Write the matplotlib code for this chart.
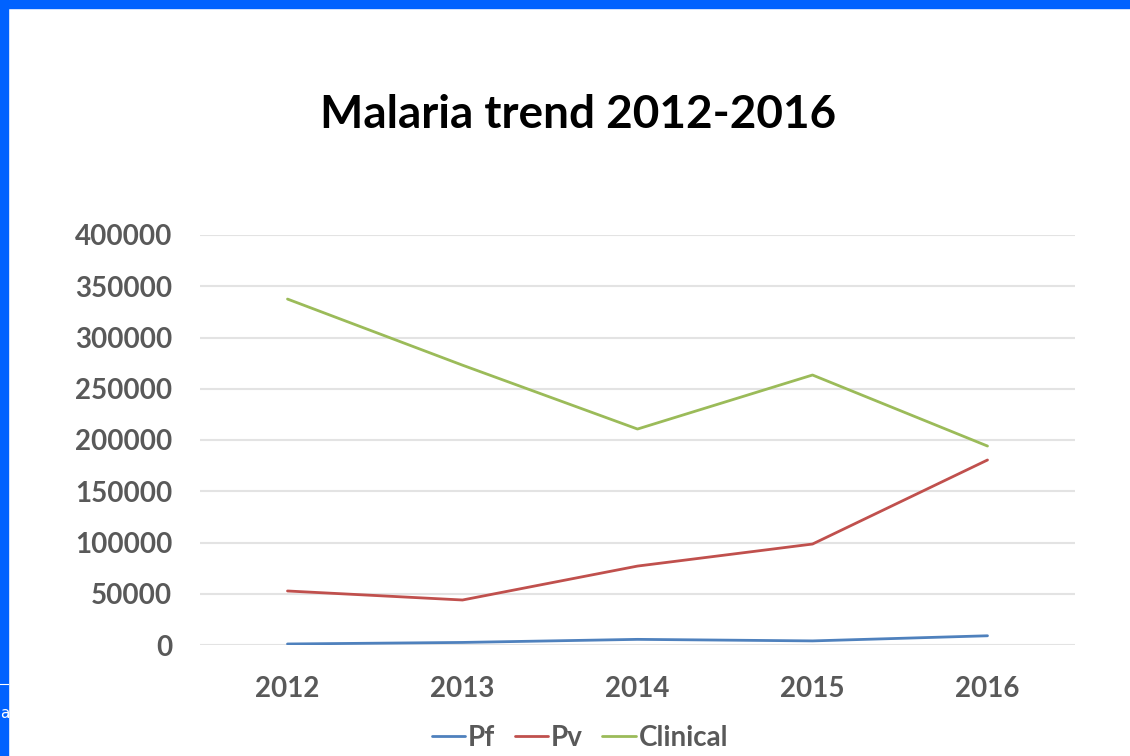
import matplotlib.pyplot as plt
from matplotlib.patches import Rectangle

years = ['2012', '2013', '2014', '2015', '2016']
pf = [1000, 2500, 5500, 4000, 9000]
pv = [52700, 43900, 77000, 98500, 180500]
clinical = [337500, 273000, 210700, 263400, 194100]

yticks = [0, 50000, 100000, 150000, 200000, 250000, 300000, 350000, 400000]

plt.rcParams['font.family'] = ['Lato', 'DejaVu Sans']

fig = plt.figure(figsize=(11.3, 7.56), dpi=100)

# blue frame of the slide (top and left strips)
fig.patches.append(Rectangle((0, 1 - 8 / 756), 1, 8 / 756, transform=fig.transFigure,
                             color='#0062ff', zorder=0))
fig.patches.append(Rectangle((0, 0), 8 / 1130, 1, transform=fig.transFigure,
                             color='#0062ff', zorder=0))
fig.lines.append(plt.Line2D([0, 8 / 1130], [1 - 684 / 756] * 2, transform=fig.transFigure,
                            color='white', lw=0.8))
fig.text(0.0, 1 - 713 / 756, 'a', color='white', fontsize=11, va='center', ha='left',
         family='DejaVu Sans')

ax = fig.add_axes([200 / 1130, 1 - 645 / 756, 875 / 1130, 410 / 756])
x = range(len(years))
ax.plot(x, pf, color='#4f81bd', lw=2, label='Pf', solid_capstyle='round')
ax.plot(x, pv, color='#c0504d', lw=2, label='Pv', solid_capstyle='round')
ax.plot(x, clinical, color='#9bbb59', lw=2, label='Clinical', solid_capstyle='round')

ax.set_xlim(-0.5, 4.5)
ax.set_ylim(0, 400000)
ax.set_xticks(list(x))
ax.set_xticklabels(years)
ax.set_yticks(yticks)
ax.set_yticklabels([str(v) for v in yticks])
ax.grid(axis='y', color='#e3e3e3', lw=1.5)
ax.set_axisbelow(True)
for s in ax.spines.values():
    s.set_visible(False)
ax.tick_params(length=0, labelsize=20, labelcolor='#595959')
ax.tick_params(axis='y', pad=20)
ax.tick_params(axis='x', pad=22)
for lbl in ax.get_xticklabels() + ax.get_yticklabels():
    lbl.set_fontweight('bold')

fig.text(578 / 1130, 1 - 115 / 756, 'Malaria trend 2012-2016', ha='center', va='center',
         fontsize=33, fontweight='bold', color='black')

leg = fig.legend(loc='center', bbox_to_anchor=(580 / 1130, 1 - 738 / 756), ncol=3,
                 frameon=False, handlelength=1.2, handletextpad=0.1, columnspacing=0.7,
                 prop={'size': 20, 'weight': 'bold'})
for t in leg.get_texts():
    t.set_color('#595959')

fig.savefig('out.png', dpi=100)
